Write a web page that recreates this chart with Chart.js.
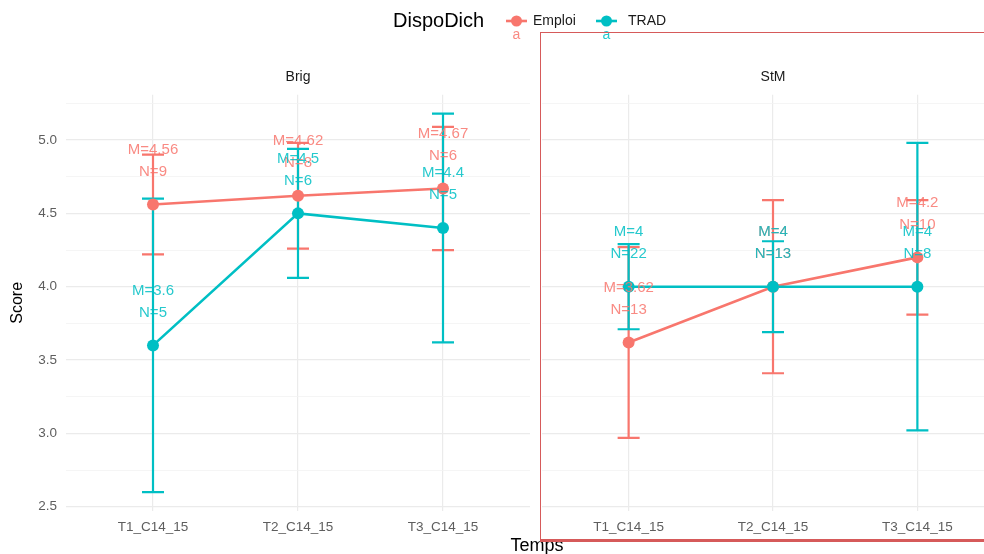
<!DOCTYPE html>
<html>
<head>
<meta charset="utf-8">
<script src="https://cdn.jsdelivr.net/npm/chart.js@4.4.0/dist/chart.umd.min.js"></script>
<style>
  html, body { margin: 0; padding: 0; background: #ffffff; overflow: hidden; width: 984px; height: 554px; }
  canvas { position: absolute; left: 0; top: 0; }
  #frame { position: absolute; left: 540px; top: 32px; width: 480px; height: 506px;
           border: 1.5px solid #d65a5a; border-bottom-width: 3px; pointer-events: none; }
</style>
</head>
<body>
<canvas id="brig" width="984" height="554"></canvas>
<canvas id="stm" width="1010" height="554"></canvas>
<div id="frame"></div>
<script>
// Time points (x categories) and groups
const categories = ['T1_C14_15', 'T2_C14_15', 'T3_C14_15'];
const groups = ['Emploi', 'TRAD'];
const groupColors = ['#F8766D', '#00BFC4'];
const groupTextColors = ['rgba(248,118,109,0.85)', 'rgba(0,191,196,0.85)'];

// Facet "Brig"
const brigEmploiMean = [4.56, 4.62, 4.67];
const brigEmploiErr  = [0.34, 0.36, 0.42];
const brigEmploiN    = [9, 8, 6];
const brigTradMean   = [3.6, 4.5, 4.4];
const brigTradErr    = [1.0, 0.44, 0.78];
const brigTradN      = [5, 6, 5];

// Facet "StM"
const stmEmploiMean = [3.62, 4, 4.2];
const stmEmploiErr  = [0.65, 0.59, 0.39];
const stmEmploiN    = [13, 13, 10];
const stmTradMean   = [4, 4, 4];
const stmTradErr    = [0.29, 0.31, 0.98];
const stmTradN      = [22, 13, 8];

// Score axis
const yMajorTicks = [2.5, 3.0, 3.5, 4.0, 4.5, 5.0];
const yMinorTicks = [2.75, 3.25, 3.75, 4.25, 4.75, 5.25];
const yMin = 2.471, yMax = 5.309;

const FONT = "'Liberation Sans', Arial, sans-serif";

function facetConfig(facetName, series, panel) {
  const datasets = [];
  // lines first (drawn underneath), then points
  series.forEach((s, g) => {
    datasets.push({
      label: groups[g], data: s.mean.map((v, i) => ({ x: i, y: v })),
      borderColor: groupColors[g], borderWidth: 2.6, pointRadius: 0,
      fill: false, tension: 0, order: 4 - g
    });
  });
  series.forEach((s, g) => {
    datasets.push({
      label: groups[g] + ' points', data: s.mean.map((v, i) => ({ x: i, y: v })),
      showLine: false, pointRadius: 6, pointBackgroundColor: groupColors[g],
      pointBorderWidth: 0, order: 2 - g
    });
  });

  const yTicks = yMajorTicks.concat(yMinorTicks).sort((a, b) => a - b);

  const errorBars = {
    id: 'errorBars',
    beforeDatasetsDraw(chart) {
      const { ctx, scales: { x, y } } = chart;
      ctx.save();
      ctx.lineWidth = 2.2;
      series.forEach((s, g) => {
        ctx.strokeStyle = groupColors[g];
        s.mean.forEach((m, i) => {
          const px = x.getPixelForValue(i);
          const top = y.getPixelForValue(m + s.err[i]);
          const bot = y.getPixelForValue(m - s.err[i]);
          ctx.beginPath();
          ctx.moveTo(px, top); ctx.lineTo(px, bot);
          ctx.moveTo(px - 11, top); ctx.lineTo(px + 11, top);
          ctx.moveTo(px - 11, bot); ctx.lineTo(px + 11, bot);
          ctx.stroke();
        });
      });
      ctx.restore();
    }
  };

  const valueLabels = {
    id: 'valueLabels',
    afterDatasetsDraw(chart) {
      const { ctx, scales: { x, y } } = chart;
      ctx.save();
      ctx.font = '15px ' + FONT;
      ctx.textAlign = 'center';
      ctx.textBaseline = 'middle';
      series.forEach((s, g) => {
        ctx.fillStyle = groupTextColors[g];
        s.mean.forEach((m, i) => {
          const px = x.getPixelForValue(i);
          const py = y.getPixelForValue(m);
          ctx.fillText('M=' + m, px, py - 55);
          ctx.fillText('N=' + s.n[i], px, py - 33);
        });
      });
      ctx.restore();
    }
  };

  const strip = {
    id: 'strip',
    afterDraw(chart) {
      const { ctx, chartArea } = chart;
      ctx.save();
      ctx.font = '14px ' + FONT;
      ctx.fillStyle = '#1A1A1A';
      ctx.textAlign = 'center';
      ctx.textBaseline = 'middle';
      ctx.fillText(facetName, (chartArea.left + chartArea.right) / 2, 77);
      ctx.restore();
    }
  };

  const plugins = [errorBars, valueLabels, strip];
  if (panel.extra) plugins.push(panel.extra);

  return {
    type: 'line',
    data: { datasets },
    plugins,
    options: {
      responsive: false,
      animation: false,
      events: [],
      layout: { padding: { left: panel.left, right: panel.right, top: 94.7, bottom: 0 } },
      plugins: { legend: { display: false }, tooltip: { enabled: false }, title: { display: false } },
      scales: {
        x: {
          type: 'linear', min: -0.6, max: 2.6,
          afterBuildTicks: s => { s.ticks = categories.map((c, i) => ({ value: i })); },
          afterFit: s => { s.height = 43; },
          border: { display: false },
          grid: { color: '#EBEBEB', lineWidth: 1.2, drawTicks: false },
          ticks: {
            autoSkip: false, maxRotation: 0, padding: 8,
            color: '#5E5E5E', font: { family: FONT, size: 13.5 },
            callback: v => categories[v]
          }
        },
        y: {
          type: 'linear', min: yMin, max: yMax,
          afterBuildTicks: s => { s.ticks = yTicks.map(v => ({ value: v })); },
          afterFit: s => { s.width = panel.showY ? 66 : 0; },
          border: { display: false },
          grid: {
            drawTicks: false,
            color: c => yMajorTicks.includes(c.tick.value) ? '#EBEBEB' : '#F3F3F3',
            lineWidth: c => yMajorTicks.includes(c.tick.value) ? 1.2 : 0.8
          },
          ticks: {
            display: panel.showY, autoSkip: false, padding: 9,
            color: '#5E5E5E', font: { family: FONT, size: 13.5 },
            callback: v => yMajorTicks.includes(v) ? v.toFixed(1) : ''
          },
          title: {
            display: panel.showY, text: 'Score', color: '#000000',
            font: { family: FONT, size: 16 }, padding: { top: 8, bottom: 0 }
          }
        }
      }
    }
  };
}

// Legend and shared x title drawn across the whole figure
const figureDecor = {
  id: 'figureDecor',
  afterDraw(chart) {
    const { ctx } = chart;
    ctx.save();
    ctx.textBaseline = 'middle';
    ctx.fillStyle = '#000000';
    ctx.font = '20px ' + FONT;
    ctx.textAlign = 'left';
    ctx.fillText('DispoDich', 393, 21);

    const keyX = [516.5, 606.5];
    const labelX = [533, 628];
    groups.forEach((name, g) => {
      ctx.strokeStyle = groupColors[g];
      ctx.lineWidth = 2.6;
      ctx.beginPath();
      ctx.moveTo(keyX[g] - 10.5, 21); ctx.lineTo(keyX[g] + 10.5, 21);
      ctx.stroke();
      ctx.fillStyle = groupColors[g];
      ctx.beginPath();
      ctx.arc(keyX[g], 21, 5.5, 0, Math.PI * 2);
      ctx.fill();
      ctx.fillStyle = groupTextColors[g];
      ctx.font = '14px ' + FONT;
      ctx.textAlign = 'center';
      ctx.fillText('a', keyX[g], 35);
      ctx.fillStyle = '#1A1A1A';
      ctx.textAlign = 'left';
      ctx.font = '14px ' + FONT;
      ctx.fillText(name, labelX[g], 21);
    });

    ctx.fillStyle = '#000000';
    ctx.font = '18px ' + FONT;
    ctx.textAlign = 'center';
    ctx.textBaseline = 'alphabetic';
    ctx.fillText('Temps', 537, 551);
    ctx.restore();
  }
};

new Chart(document.getElementById('brig'), facetConfig('Brig', [
  { mean: brigEmploiMean, err: brigEmploiErr, n: brigEmploiN },
  { mean: brigTradMean, err: brigTradErr, n: brigTradN }
], { left: 0, right: 984 - 530, showY: true, extra: figureDecor }));

new Chart(document.getElementById('stm'), facetConfig('StM', [
  { mean: stmEmploiMean, err: stmEmploiErr, n: stmEmploiN },
  { mean: stmTradMean, err: stmTradErr, n: stmTradN }
], { left: 542, right: 1010 - 1006, showY: false }));
</script>
</body>
</html>
